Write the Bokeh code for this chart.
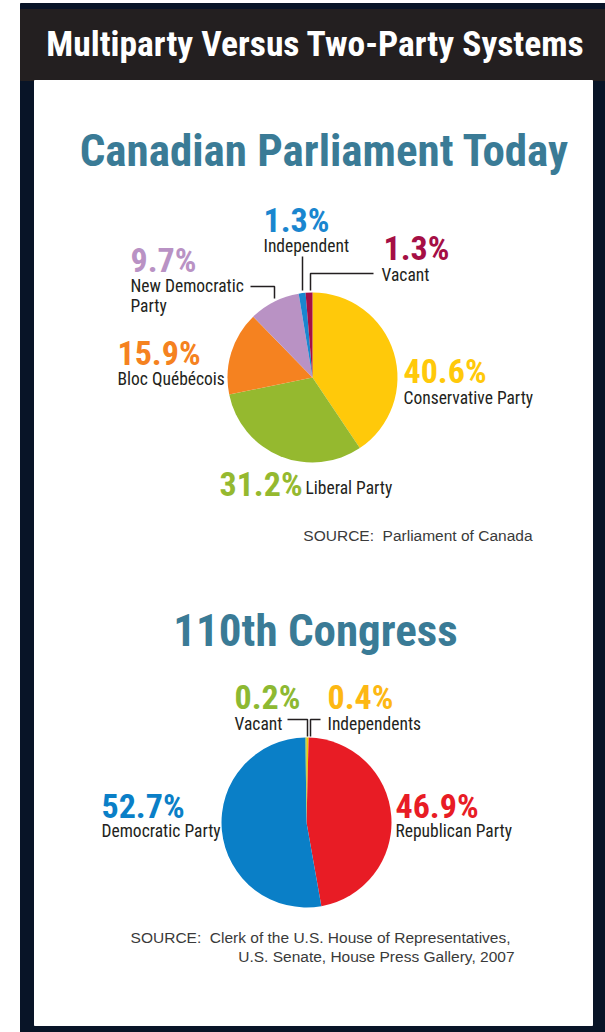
from bokeh.plotting import figure
from bokeh.models import ColumnDataSource
from bokeh.core.properties import value
from bokeh.embed import file_html
from bokeh.resources import INLINE
import math

# ---------------- data ----------------
ca_parties = ["Conservative Party", "Liberal Party", "Bloc Québécois",
              "New Democratic Party", "Independent", "Vacant"]
ca_pct = [40.6, 31.2, 15.9, 9.7, 1.3, 1.3]
ca_colors = ["#ffc90a", "#95b92f", "#f58220", "#b992c4", "#1a86cf", "#a50f45"]

us_parties = ["Independents", "Republican Party", "Democratic Party", "Vacant"]
us_pct = [0.4, 46.9, 52.7, 0.2]
us_colors = ["#f5c800", "#e81c25", "#0a7fc7", "#8db932"]
us_label_colors = ["#fdb813", "#e81c25", "#0a7fc7", "#8db932"]

main_title = "Multiparty Versus Two-Party Systems"
ca_title = "Canadian Parliament Today"
us_title = "110th Congress"
ca_source = ["SOURCE:\u00a0 Parliament of Canada"]
us_source = ["SOURCE:\u00a0 Clerk of the U.S. House of Representatives,",
             "U.S. Senate, House Press Gallery, 2007"]

W, H = 605, 1032
NARROW = "'Roboto Condensed', Roboto, sans-serif"
REG = "'Liberation Sans', Arial, sans-serif"

def Y(y):
    return H - y

p = figure(width=W, height=H, x_range=(0, W), y_range=(0, H),
           output_backend="svg", toolbar_location=None, min_border=0,
           x_axis_location=None, y_axis_location=None,
           outline_line_color=None, background_fill_color="white",
           border_fill_color="white")
p.grid.visible = False

# ---------------- frame ----------------
p.quad(left=[20], right=[W], top=[Y(3)], bottom=[0], color="#081427")
p.quad(left=[20], right=[W], top=[Y(9)], bottom=[Y(80)], color="#231f20")
p.quad(left=[34], right=[592], top=[Y(80)], bottom=[Y(1025)], color="white")

p.text(x=[315], y=[Y(43)], text=[main_title], text_color="white",
       text_font=value(NARROW), text_font_style="bold", text_font_size="35.5px",
       text_align="center", text_baseline="middle")

# ---------------- pies ----------------
def pie(values, colors, cx, cy, r):
    tot = sum(values)
    starts, ends = [], []
    c = 0.0
    for v in values:
        starts.append(math.pi / 2 - 2 * math.pi * c / tot)
        c += v
        ends.append(math.pi / 2 - 2 * math.pi * c / tot)
    src = ColumnDataSource(dict(s=starts, e=ends, color=colors))
    p.wedge(x=cx, y=cy, radius=r, start_angle="s", end_angle="e",
            direction="clock", fill_color="color", line_color=None, source=src)

pie(ca_pct, ca_colors, 312, Y(377), 85)
pie(us_pct, us_colors, 306, Y(822), 85)

TEAL = "#3a7b96"
p.text(x=[324], y=[Y(150)], text=[ca_title], text_color=TEAL,
       text_font=value(NARROW), text_font_style="bold", text_font_size="45px",
       text_align="center", text_baseline="middle")
p.text(x=[315], y=[Y(630)], text=[us_title], text_color=TEAL,
       text_font=value(NARROW), text_font_style="bold", text_font_size="45px",
       text_align="center", text_baseline="middle")

# label layout: party -> (pct_x, pct_y, name_x, name_y)
ca_pos = {
    "Conservative Party": (403, 370, 403, 397),
    "Liberal Party": (219, 483, 305, 487),
    "Bloc Québécois": (117, 352, 117, 378),
    "New Democratic Party": (130, 259, 130, 285),
    "Independent": (263, 219, 263, 245),
    "Vacant": (383, 247, 381, 274),
}
us_pos = {
    "Independents": (327, 696, 327, 723),
    "Republican Party": (395, 805, 395, 830),
    "Democratic Party": (101, 805, 101, 830),
    "Vacant": (234, 696, 234, 723),
}

def labels(parties, pcts, colors, pos):
    px, py, pt, pc = [], [], [], []
    nx, ny, nt = [], [], []
    for party, v, col in zip(parties, pcts, colors):
        a, b, c, d = pos[party]
        px.append(a); py.append(Y(b)); pt.append(f"{v}%"); pc.append(col)
        if party == "New Democratic Party":
            nx += [c, c]; ny += [Y(d), Y(d + 20)]; nt += ["New Democratic", "Party"]
        else:
            nx.append(c); ny.append(Y(d)); nt.append(party)
    p.text(x="x", y="y", text="t", text_color="c",
           source=ColumnDataSource(dict(x=px, y=py, t=pt, c=pc)),
           text_font=value(NARROW), text_font_style="bold", text_font_size="34px",
           text_align="left", text_baseline="middle")
    p.text(x="x", y="y", text="t",
           source=ColumnDataSource(dict(x=nx, y=ny, t=nt)),
           text_color="#231f20", text_font=value(NARROW), text_font_size="17.5px",
           text_align="left", text_baseline="middle")

labels(ca_parties, ca_pct, ca_colors, ca_pos)
labels(us_parties, us_pct, us_label_colors, us_pos)

# leader lines
leaders = [
    [(302, 256), (302, 290)],
    [(373, 273), (310, 273), (310, 290)],
    [(250, 286), (274, 286), (274, 298)],
    [(287, 719), (307, 719), (307, 736)],
    [(320, 719), (310, 719), (310, 736)],
]
p.multi_line(xs=[[pt[0] for pt in L] for L in leaders],
             ys=[[Y(pt[1]) for pt in L] for L in leaders],
             line_color="#231f20", line_width=1.5)

# sources
p.text(x=[532], y=[Y(535)], text=ca_source, text_color="#3a3a3a",
       text_font=value(REG), text_font_size="15.5px",
       text_align="right", text_baseline="middle")
p.text(x=[510, 514], y=[Y(937), Y(956)], text=us_source, text_color="#3a3a3a",
       text_font=value(REG), text_font_size="15.5px",
       text_align="right", text_baseline="middle")

open("out.html", "w").write(file_html(p, INLINE))
